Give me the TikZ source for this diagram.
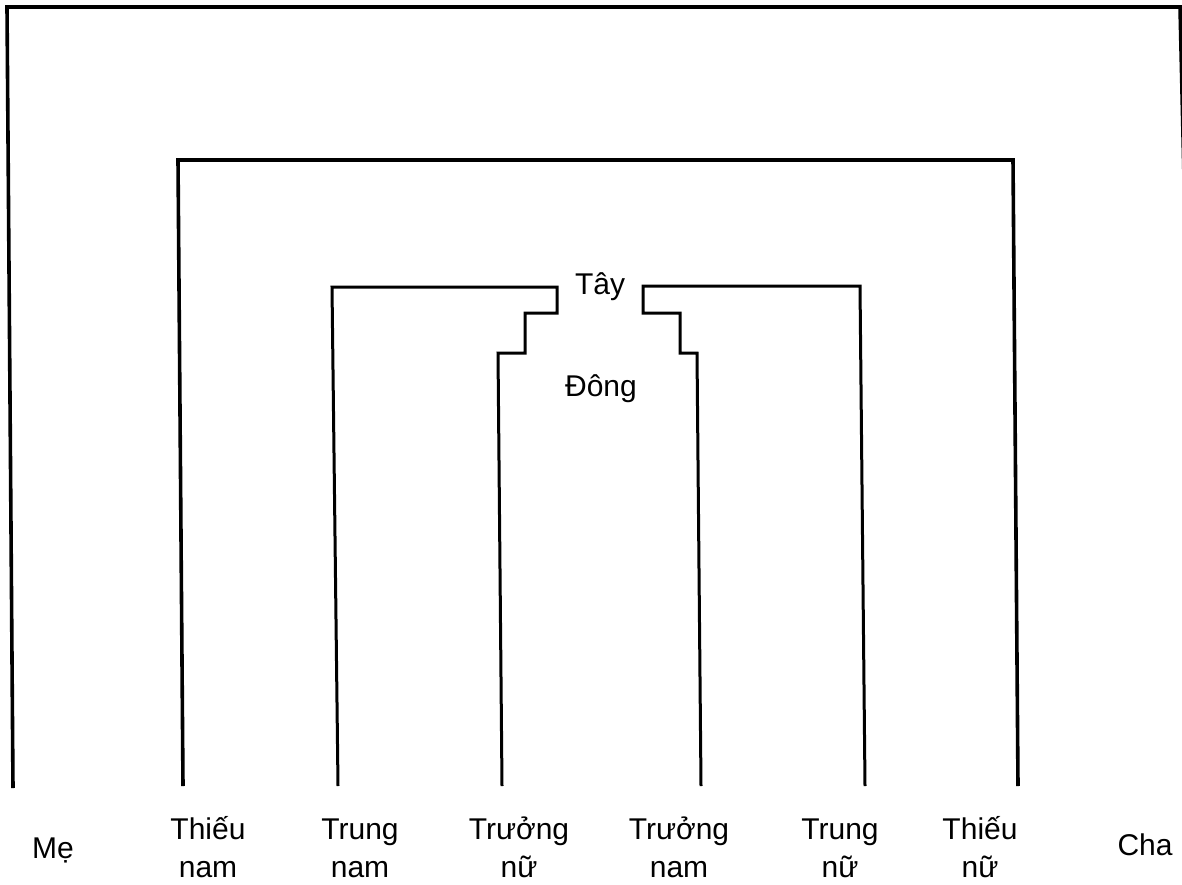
\documentclass[tikz,border=0pt]{standalone}
\usepackage{fontspec}
\setmainfont{Liberation Sans}
\begin{document}
\begin{tikzpicture}[x=1pt,y=-1pt,
  frame/.style={line width=3.6pt,line join=miter},
  inner/.style={line width=3pt,line join=miter},
  lbl/.style={font=\fontsize{30}{38}\selectfont,align=center,inner sep=0pt,anchor=base}]
\useasboundingbox (0,0) rectangle (1182,885);
\clip (0,0) rectangle (1182,885);

% outer frame: Me -- Cha
\coordinate (oA) at (13,788);
\coordinate (oB) at (7,7);
\coordinate (oC) at (1180,7);
\coordinate (oD) at (1184.5,200);
\draw[frame] (oA) -- (oB) -- (oC) -- (oD);

% second frame: Thieu nam -- Thieu nu
\coordinate (sA) at (183,786);
\coordinate (sB) at (178,160);
\coordinate (sC) at (1013,160);
\coordinate (sD) at (1018,786);
\draw[frame] (sA) -- (sB) -- (sC) -- (sD);

% left stepped path: Trung nam -- Truong nu
\coordinate (lA) at (338,786);
\coordinate (lB) at (332,287);
\coordinate (lC) at (557,287);
\coordinate (lD) at (557,313);
\coordinate (lE) at (525,313);
\coordinate (lF) at (525,353);
\coordinate (lG) at (498,353);
\coordinate (lH) at (502,786);
\draw[inner] (lA) -- (lB) -- (lC) -- (lD) -- (lE) -- (lF) -- (lG) -- (lH);

% right stepped path: Trung nu -- Truong nam
\coordinate (rA) at (865,786);
\coordinate (rB) at (860,286);
\coordinate (rC) at (643,286);
\coordinate (rD) at (643,313);
\coordinate (rE) at (680,313);
\coordinate (rF) at (680,353);
\coordinate (rG) at (697,353);
\coordinate (rH) at (701,786);
\draw[inner] (rA) -- (rB) -- (rC) -- (rD) -- (rE) -- (rF) -- (rG) -- (rH);

% directions
\node[lbl] (tay) at (600,294) {Tây};
\node[lbl] (dong) at (601,396) {Đông};

% bottom labels (base anchor sits on the second line)
\node[lbl] (me) at (53,858) {Mẹ};
\node[lbl] (thieunam) at (208,877) {Thiếu\\nam};
\node[lbl] (trungnam) at (360,877) {Trung\\nam};
\node[lbl] (truongnu) at (519,877) {Trưởng\\nữ};
\node[lbl] (truongnam) at (679,877) {Trưởng\\nam};
\node[lbl] (trungnu) at (840,877) {Trung\\nữ};
\node[lbl] (thieunu) at (980,877) {Thiếu\\nữ};
\node[lbl] (cha) at (1145,855) {Cha};
\end{tikzpicture}
\end{document}
